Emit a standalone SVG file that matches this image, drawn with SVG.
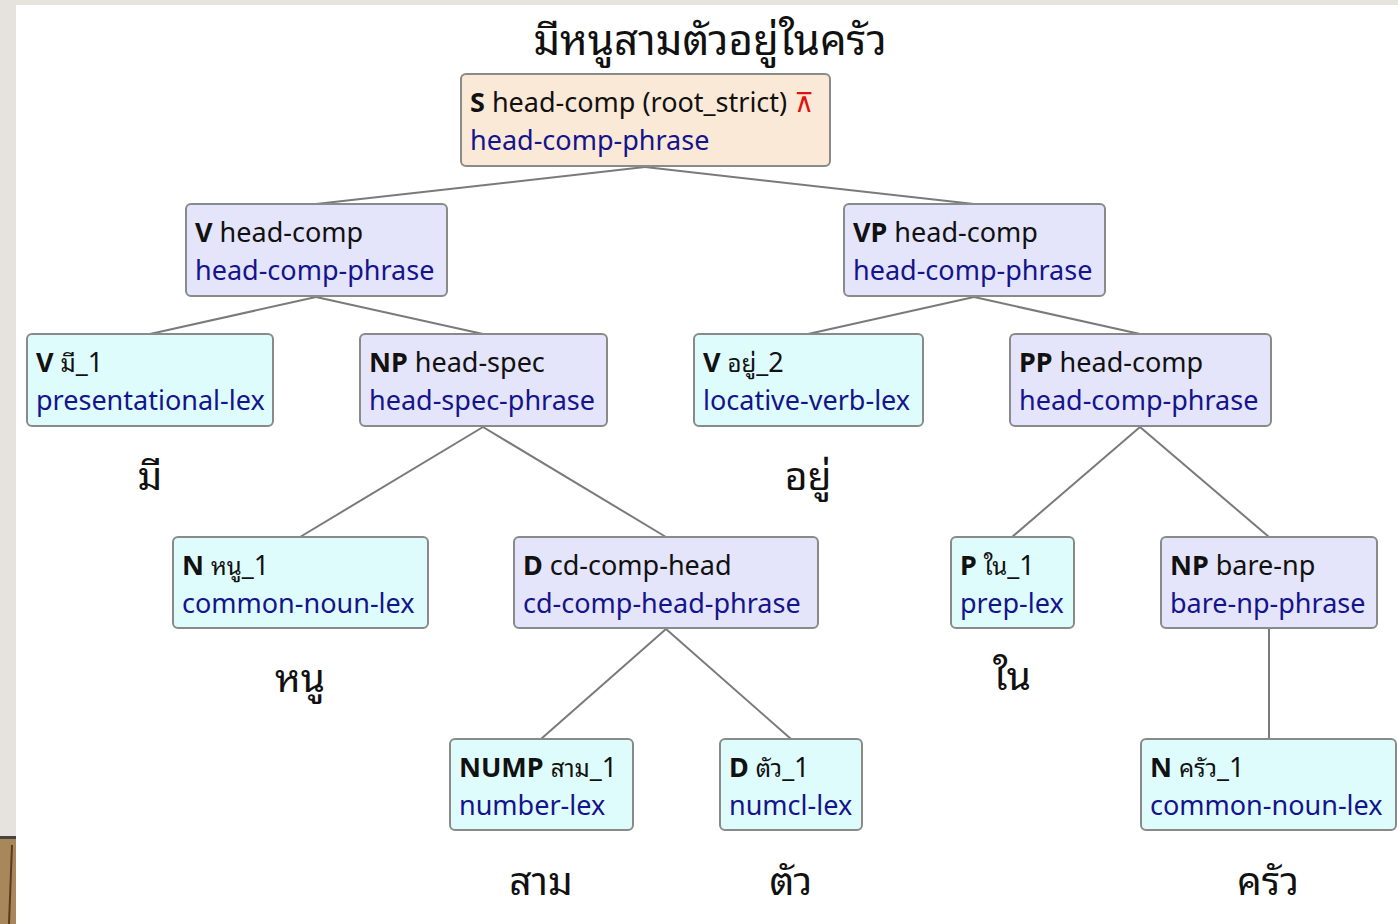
<svg xmlns="http://www.w3.org/2000/svg" width="1398" height="924" viewBox="0 0 1398 924">
  <style>
    .box rect { stroke: #8a8a8a; stroke-width: 2; }
    .phrase rect { fill: #e4e4fa; }
    .lex rect { fill: #dffcfd; }
    .root rect { fill: #fbe9d7; }
    .l1 { font-family: "Noto Sans", "DejaVu Sans", sans-serif; font-size: 27px; fill: #111; }
    .l1 .cat { font-weight: bold; }
    .l1 .th { font-family: "Noto Sans Thai Looped", "Noto Serif Thai", "Noto Sans Thai", sans-serif; font-size: 24px; }
    .l2 { font-family: "Noto Sans", "DejaVu Sans", sans-serif; font-size: 27px; fill: #14148c; }
    .word { font-family: "Noto Sans Thai Looped", "Noto Serif Thai", "Noto Sans Thai", "Noto Sans", sans-serif; font-size: 39px; fill: #111; text-anchor: middle; }
    .title { font-family: "Noto Sans Thai Looped", "Noto Serif Thai", "Noto Sans Thai", "Noto Sans", sans-serif; font-size: 42px; fill: #111; text-anchor: middle; }
    .edges line { stroke: #7a7a7a; stroke-width: 2; }
  </style>

  <!-- page background -->
  <rect x="0" y="0" width="1398" height="924" fill="#e6e3df"/>
  <rect x="0" y="838" width="16" height="86" fill="#a8885a"/>
  <rect x="0" y="836" width="16" height="3" fill="#444"/>
  <path d="M12,845 L9,924" stroke="#5a3a1a" stroke-width="2" fill="none"/>
  <rect x="16" y="5" width="1382" height="919" fill="#ffffff"/>

  <text class="title" x="710" y="55">มีหนูสามตัวอยู่ในครัว</text>

  <!-- connectors -->
  <g id="edges" class="edges">
    <line x1="645" y1="167" x2="316" y2="204"/>
    <line x1="645" y1="167" x2="974" y2="204"/>
    <line x1="316" y1="297" x2="150" y2="334"/>
    <line x1="316" y1="297" x2="483" y2="334"/>
    <line x1="974" y1="297" x2="808" y2="334"/>
    <line x1="974" y1="297" x2="1140" y2="334"/>
    <line x1="483" y1="427" x2="300" y2="537"/>
    <line x1="483" y1="427" x2="666" y2="537"/>
    <line x1="1140" y1="427" x2="1012" y2="537"/>
    <line x1="1140" y1="427" x2="1269" y2="537"/>
    <line x1="666" y1="629" x2="541" y2="739"/>
    <line x1="666" y1="629" x2="791" y2="739"/>
    <line x1="1269" y1="629" x2="1269" y2="739"/>
  </g>

  <g id="n-s" class="box root">
    <rect x="461" y="74" width="369" height="92" rx="5"/>
    <text class="l1" x="470" y="112"><tspan class="cat">S</tspan> head-comp (root_strict) <tspan fill="#e01010" font-family="DejaVu Sans, sans-serif">⊼</tspan></text>
    <text class="l2" x="470" y="150">head-comp-phrase</text>
  </g>

  <g id="n-v-hc" class="box phrase">
    <rect x="186" y="204" width="261" height="92" rx="5"/>
    <text class="l1" x="195" y="242"><tspan class="cat">V</tspan> head-comp</text>
    <text class="l2" x="195" y="280">head-comp-phrase</text>
  </g>

  <g id="n-vp-hc" class="box phrase">
    <rect x="844" y="204" width="261" height="92" rx="5"/>
    <text class="l1" x="853" y="242"><tspan class="cat">VP</tspan> head-comp</text>
    <text class="l2" x="853" y="280">head-comp-phrase</text>
  </g>

  <g id="n-v-mii" class="box lex">
    <rect x="27" y="334" width="246" height="92" rx="5"/>
    <text class="l1" x="36" y="372"><tspan class="cat">V</tspan> <tspan class="th">มี</tspan>_1</text>
    <text class="l2" x="36" y="410">presentational-lex</text>
  </g>
  <text class="word" x="150" y="490">มี</text>

  <g id="n-np-hs" class="box phrase">
    <rect x="360" y="334" width="247" height="92" rx="5"/>
    <text class="l1" x="369" y="372"><tspan class="cat">NP</tspan> head-spec</text>
    <text class="l2" x="369" y="410">head-spec-phrase</text>
  </g>

  <g id="n-v-yuu" class="box lex">
    <rect x="694" y="334" width="229" height="92" rx="5"/>
    <text class="l1" x="703" y="372"><tspan class="cat">V</tspan> <tspan class="th">อยู่</tspan>_2</text>
    <text class="l2" x="703" y="410">locative-verb-lex</text>
  </g>
  <text class="word" x="808" y="490">อยู่</text>

  <g id="n-pp-hc" class="box phrase">
    <rect x="1010" y="334" width="261" height="92" rx="5"/>
    <text class="l1" x="1019" y="372"><tspan class="cat">PP</tspan> head-comp</text>
    <text class="l2" x="1019" y="410">head-comp-phrase</text>
  </g>

  <g id="n-n-nuu" class="box lex">
    <rect x="173" y="537" width="255" height="91" rx="5"/>
    <text class="l1" x="182" y="575"><tspan class="cat">N</tspan> <tspan class="th">หนู</tspan>_1</text>
    <text class="l2" x="182" y="613">common-noun-lex</text>
  </g>
  <text class="word" x="300" y="692">หนู</text>

  <g id="n-d-cd" class="box phrase">
    <rect x="514" y="537" width="304" height="91" rx="5"/>
    <text class="l1" x="523" y="575"><tspan class="cat">D</tspan> cd-comp-head</text>
    <text class="l2" x="523" y="613">cd-comp-head-phrase</text>
  </g>

  <g id="n-p-nai" class="box lex">
    <rect x="951" y="537" width="123" height="91" rx="5"/>
    <text class="l1" x="960" y="575"><tspan class="cat">P</tspan> <tspan class="th">ใน</tspan>_1</text>
    <text class="l2" x="960" y="613">prep-lex</text>
  </g>
  <text class="word" x="1012" y="690">ใน</text>

  <g id="n-np-bare" class="box phrase">
    <rect x="1161" y="537" width="216" height="91" rx="5"/>
    <text class="l1" x="1170" y="575"><tspan class="cat">NP</tspan> bare-np</text>
    <text class="l2" x="1170" y="613">bare-np-phrase</text>
  </g>

  <g id="n-nump" class="box lex">
    <rect x="450" y="739" width="183" height="91" rx="5"/>
    <text class="l1" x="459" y="777"><tspan class="cat">NUMP</tspan> <tspan class="th">สาม</tspan>_1</text>
    <text class="l2" x="459" y="815">number-lex</text>
  </g>
  <text class="word" x="541" y="895">สาม</text>

  <g id="n-d-tua" class="box lex">
    <rect x="720" y="739" width="142" height="91" rx="5"/>
    <text class="l1" x="729" y="777"><tspan class="cat">D</tspan> <tspan class="th">ตัว</tspan>_1</text>
    <text class="l2" x="729" y="815">numcl-lex</text>
  </g>
  <text class="word" x="791" y="895">ตัว</text>

  <g id="n-n-khrua" class="box lex">
    <rect x="1141" y="739" width="255" height="91" rx="5"/>
    <text class="l1" x="1150" y="777"><tspan class="cat">N</tspan> <tspan class="th">ครัว</tspan>_1</text>
    <text class="l2" x="1150" y="815">common-noun-lex</text>
  </g>
  <text class="word" x="1268" y="895">ครัว</text>
</svg>
